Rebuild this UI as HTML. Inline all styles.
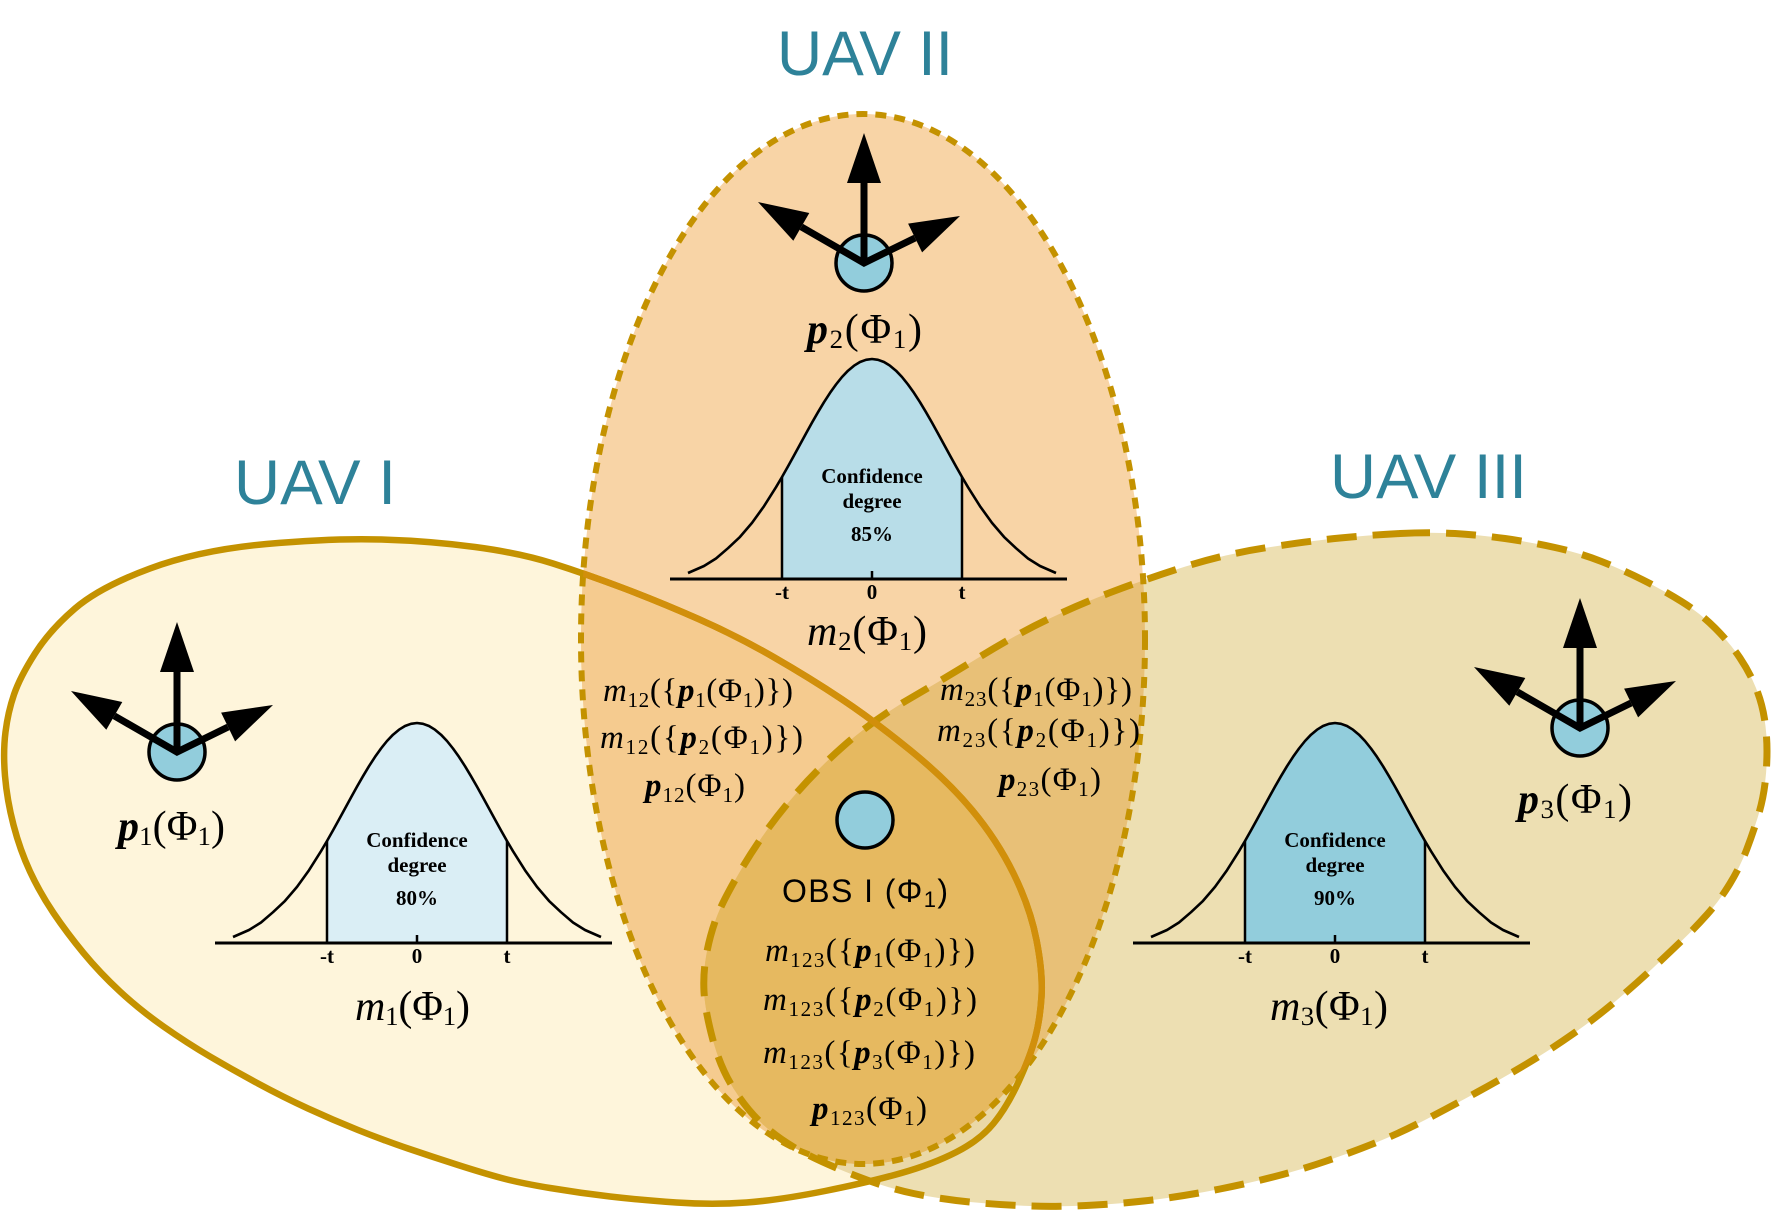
<!DOCTYPE html>
<html>
<head>
<meta charset="utf-8">
<style>
html,body{margin:0;padding:0;background:#fff;}
svg{display:block;}
.lab{font-family:"Liberation Sans",sans-serif;fill:#2E8299;font-size:63px;}
.m{font-family:"Liberation Serif",serif;fill:#000;}
.big{font-size:42px;}
.mid{font-size:33px;}
.i{font-style:italic;}
.bi{font-style:italic;font-weight:bold;}
.sb{font-size:0.64em;}
.cf{font-family:"Liberation Serif",serif;font-weight:bold;font-size:21px;fill:#000;text-anchor:middle;}
.obs{font-family:"Liberation Sans",sans-serif;font-size:32px;fill:#000;}
</style>
</head>
<body>
<svg width="1772" height="1213" viewBox="0 0 1772 1213" xmlns="http://www.w3.org/2000/svg">
<defs>
<path id="e1" d="M 266.5 544 Q 333 538 381.5 539.5 Q 430 541 475 547 Q 520 553 553 563.5 Q 586 574 623 588 Q 660 602 698.5 619 Q 737 636 773.5 657 Q 810 678 841.5 699 Q 873 720 910 750 Q 947 780 972 810 Q 997 840 1013.5 873.5 Q 1030 907 1036.5 940 Q 1043 973 1041.5 996.5 Q 1040 1020 1035 1038.5 Q 1030 1057 1018.5 1082 Q 1007 1107 993.5 1123.5 Q 980 1140 956.5 1152 Q 933 1164 901.5 1173 Q 870 1182 825 1191 Q 780 1200 746.5 1202.5 Q 713 1205 676.5 1202.5 Q 640 1200 610 1196.5 Q 580 1193 550 1188 Q 520 1183 501.5 1178 Q 483 1173 458 1165 Q 433 1157 408 1148.5 Q 383 1140 358 1130 Q 333 1120 308 1108.5 Q 283 1097 258 1083.5 Q 233 1070 210 1056.5 Q 187 1043 163.5 1026.5 Q 140 1010 120 991.5 Q 100 973 83.5 953 Q 67 933 53.5 913 Q 40 893 30 871.5 Q 20 850 13.5 825 Q 7 800 5 776 Q 3 752 5.5 732 Q 8 712 14 694.5 Q 20 677 35 653.5 Q 50 630 75 608.5 Q 100 587 150 568.5 Q 200 550 266.5 544 Z"/>
<path id="e3" d="M 1400 533.5 Q 1430 532 1455 533.5 Q 1480 535 1505 538.5 Q 1530 542 1555 547.5 Q 1580 553 1601.5 561.5 Q 1623 570 1643 580 Q 1663 590 1681.5 601.5 Q 1700 613 1715 628 Q 1730 643 1740 658 Q 1750 673 1756 688 Q 1762 703 1764.5 719 Q 1767 735 1767 751 Q 1767 767 1765 783.5 Q 1763 800 1758 816.5 Q 1753 833 1746.5 850 Q 1740 867 1730 883.5 Q 1720 900 1707.5 914 Q 1695 928 1682.5 940 Q 1670 952 1653.5 967.5 Q 1637 983 1617 1000 Q 1597 1017 1573.5 1033.5 Q 1550 1050 1526.5 1064 Q 1503 1078 1476.5 1092.5 Q 1450 1107 1425 1120 Q 1400 1133 1375 1143 Q 1350 1153 1325 1161.5 Q 1300 1170 1275 1176.5 Q 1250 1183 1220 1189 Q 1190 1195 1160 1199 Q 1130 1203 1095 1205 Q 1060 1207 1030 1206 Q 1000 1205 970 1202 Q 940 1199 913.5 1193.5 Q 887 1188 855 1175.5 Q 823 1163 801.5 1151.5 Q 780 1140 763.5 1125 Q 747 1110 733.5 1088.5 Q 720 1067 712.5 1038.5 Q 705 1010 704 991.5 Q 703 973 706.5 954 Q 710 935 716.5 917.5 Q 723 900 743 866.5 Q 763 833 788 803 Q 813 773 843 746.5 Q 873 720 910 698.5 Q 947 677 982 655.5 Q 1017 634 1048.5 619 Q 1080 604 1113 591.5 Q 1146 579 1185.5 566.5 Q 1225 554 1267.5 547.5 Q 1310 541 1340 538 Q 1370 535 1400 533.5 Z"/>
<ellipse id="e2" cx="863" cy="639" rx="282" ry="525"/>
<clipPath id="c1"><use href="#e1"/></clipPath>
<clipPath id="c2"><use href="#e2"/></clipPath>
<clipPath id="c3"><use href="#e3"/></clipPath>

<path id="bellcurve" d="M-184 -6 L-168 -13 L-156 -20.5 L-144 -30.8 L-132 -42.1 L-120 -56.1 L-108 -72.8 L-96 -91.8 L-90 -102 L-84 -112.6 L-78 -123.5 L-72 -134.5 L-66 -145.5 L-60 -156.4 L-54 -166.8 L-48 -176.8 L-42 -186.1 L-36 -194.5 L-30 -202 L-24 -208.3 L-18 -213.3 L-12 -217 L-6 -219.2 L0 -220 L6 -219.2 L12 -217 L18 -213.3 L24 -208.3 L30 -202 L36 -194.5 L42 -186.1 L48 -176.8 L54 -166.8 L60 -156.4 L66 -145.5 L72 -134.5 L78 -123.5 L84 -112.6 L90 -102 L96 -91.8 L108 -72.8 L120 -56.1 L132 -42.1 L144 -30.8 L156 -20.5 L168 -13 L184 -6" fill="none" stroke="#000" stroke-width="2.6" stroke-linejoin="round"/>
<path id="bellfill" d="M-90 0 L-90 -102 L-84 -112.6 L-78 -123.5 L-72 -134.5 L-66 -145.5 L-60 -156.4 L-54 -166.8 L-48 -176.8 L-42 -186.1 L-36 -194.5 L-30 -202 L-24 -208.3 L-18 -213.3 L-12 -217 L-6 -219.2 L0 -220 L6 -219.2 L12 -217 L18 -213.3 L24 -208.3 L30 -202 L36 -194.5 L42 -186.1 L48 -176.8 L54 -166.8 L60 -156.4 L66 -145.5 L72 -134.5 L78 -123.5 L84 -112.6 L90 -102 L90 0 Z"/>
<g id="bellaxes">
  <path d="M-202 0 H195" stroke="#000" stroke-width="3"/>
  <path d="M-90 0 V-102 M90 0 V-102 M0 0 V-8" stroke="#000" stroke-width="2.5" fill="none"/>
</g>

<g id="uav">
  <circle r="28" fill="#92CDDC" stroke="#000" stroke-width="3.5"/>
  <path d="M-62.7 -36.1 L0 0 L51.1 -25 M0 0 V-82" stroke="#000" stroke-width="7" fill="none" stroke-linejoin="miter"/>
  <polygon points="0,-130 -17,-80 17,-80" fill="#000"/>
  <polygon points="-106,-61 -54.7,-50 -70.7,-22.2" fill="#000"/>
  <polygon points="96,-47 44.1,-39.4 58.1,-10.6" fill="#000"/>
</g>
</defs>

<rect x="0" y="0" width="1772" height="1213" fill="#fff"/>

<!-- fills -->
<use href="#e1" fill="#FEF5DB"/>
<use href="#e3" fill="#EDDFB2"/>
<g clip-path="url(#c1)"><use href="#e3" fill="#EAD8A6"/></g>
<use href="#e2" fill="#F8D4A6"/>
<g clip-path="url(#c2)">
  <use href="#e1" fill="#F5CB8F"/>
  <use href="#e3" fill="#E8C077"/>
  <g clip-path="url(#c3)"><use href="#e1" fill="#E6B960"/></g>
</g>

<!-- outlines -->
<use href="#e2" fill="none" stroke="#C49200" stroke-width="6" stroke-dasharray="11 8"/>
<use href="#e3" fill="none" stroke="#C49200" stroke-width="7" stroke-dasharray="30 16"/>
<use href="#e1" fill="none" stroke="#C49200" stroke-width="6.5"/>
<g clip-path="url(#c2)"><use href="#e1" fill="none" stroke="#D18F0B" stroke-width="6.5"/></g>

<!-- titles -->
<text class="lab" x="777" y="75" textLength="176" lengthAdjust="spacingAndGlyphs">UAV II</text>
<text class="lab" x="234" y="504" textLength="162" lengthAdjust="spacingAndGlyphs">UAV I</text>
<text class="lab" x="1330" y="498" textLength="197" lengthAdjust="spacingAndGlyphs">UAV III</text>

<!-- UAV icons -->
<use href="#uav" x="177" y="752"/>
<use href="#uav" x="864" y="263"/>
<use href="#uav" x="1580" y="728"/>

<!-- OBS circle -->
<circle cx="865" cy="820" r="28" fill="#92CDDC" stroke="#000" stroke-width="3.5"/>

<!-- bells -->
<g transform="translate(417,943)">
  <use href="#bellfill" fill="#DAEEF5"/>
  <use href="#bellcurve"/>
  <use href="#bellaxes"/>
  <text class="cf" x="0" y="-96">Confidence</text>
  <text class="cf" x="0" y="-71">degree</text>
  <text class="cf" x="0" y="-38">80%</text>
  <text class="cf" x="-90" y="20">-t</text>
  <text class="cf" x="0" y="20">0</text>
  <text class="cf" x="90" y="20">t</text>
</g>
<g transform="translate(872,579)">
  <use href="#bellfill" fill="#B8DDE8"/>
  <use href="#bellcurve"/>
  <use href="#bellaxes"/>
  <text class="cf" x="0" y="-96">Confidence</text>
  <text class="cf" x="0" y="-71">degree</text>
  <text class="cf" x="0" y="-38">85%</text>
  <text class="cf" x="-90" y="20">-t</text>
  <text class="cf" x="0" y="20">0</text>
  <text class="cf" x="90" y="20">t</text>
</g>
<g transform="translate(1335,943)">
  <use href="#bellfill" fill="#92CDDC"/>
  <use href="#bellcurve"/>
  <use href="#bellaxes"/>
  <text class="cf" x="0" y="-96">Confidence</text>
  <text class="cf" x="0" y="-71">degree</text>
  <text class="cf" x="0" y="-38">90%</text>
  <text class="cf" x="-90" y="20">-t</text>
  <text class="cf" x="0" y="20">0</text>
  <text class="cf" x="90" y="20">t</text>
</g>

<!-- big labels -->
<text class="m big" x="807" y="343" textLength="115" lengthAdjust="spacing"><tspan class="bi">p</tspan><tspan class="sb" dy="5">2</tspan><tspan dy="-5">(Φ</tspan><tspan class="sb" dy="5">1</tspan><tspan dy="-5">)</tspan></text>
<text class="m big" x="118" y="840" textLength="107" lengthAdjust="spacing"><tspan class="bi">p</tspan><tspan class="sb" dy="5">1</tspan><tspan dy="-5">(Φ</tspan><tspan class="sb" dy="5">1</tspan><tspan dy="-5">)</tspan></text>
<text class="m big" x="1518" y="813" textLength="114" lengthAdjust="spacing"><tspan class="bi">p</tspan><tspan class="sb" dy="5">3</tspan><tspan dy="-5">(Φ</tspan><tspan class="sb" dy="5">1</tspan><tspan dy="-5">)</tspan></text>
<text class="m big" x="807" y="645" textLength="120" lengthAdjust="spacing"><tspan class="i">m</tspan><tspan class="sb" dy="5">2</tspan><tspan dy="-5">(Φ</tspan><tspan class="sb" dy="5">1</tspan><tspan dy="-5">)</tspan></text>
<text class="m big" x="355" y="1020" textLength="115" lengthAdjust="spacing"><tspan class="i">m</tspan><tspan class="sb" dy="5">1</tspan><tspan dy="-5">(Φ</tspan><tspan class="sb" dy="5">1</tspan><tspan dy="-5">)</tspan></text>
<text class="m big" x="1270" y="1020" textLength="118" lengthAdjust="spacing"><tspan class="i">m</tspan><tspan class="sb" dy="5">3</tspan><tspan dy="-5">(Φ</tspan><tspan class="sb" dy="5">1</tspan><tspan dy="-5">)</tspan></text>

<!-- m12 group -->
<text class="m mid" x="603" y="701" textLength="190" lengthAdjust="spacing"><tspan class="i">m</tspan><tspan class="sb" dy="6">12</tspan><tspan dy="-6">({</tspan><tspan class="bi">p</tspan><tspan class="sb" dy="6">1</tspan><tspan dy="-6">(Φ</tspan><tspan class="sb" dy="6">1</tspan><tspan dy="-6">)})</tspan></text>
<text class="m mid" x="600" y="748" textLength="203" lengthAdjust="spacing"><tspan class="i">m</tspan><tspan class="sb" dy="6">12</tspan><tspan dy="-6">({</tspan><tspan class="bi">p</tspan><tspan class="sb" dy="6">2</tspan><tspan dy="-6">(Φ</tspan><tspan class="sb" dy="6">1</tspan><tspan dy="-6">)})</tspan></text>
<text class="m mid" x="645" y="796" textLength="100" lengthAdjust="spacing"><tspan class="bi">p</tspan><tspan class="sb" dy="6">12</tspan><tspan dy="-6">(Φ</tspan><tspan class="sb" dy="6">1</tspan><tspan dy="-6">)</tspan></text>

<!-- m23 group -->
<text class="m mid" x="940" y="700" textLength="192" lengthAdjust="spacing"><tspan class="i">m</tspan><tspan class="sb" dy="6">23</tspan><tspan dy="-6">({</tspan><tspan class="bi">p</tspan><tspan class="sb" dy="6">1</tspan><tspan dy="-6">(Φ</tspan><tspan class="sb" dy="6">1</tspan><tspan dy="-6">)})</tspan></text>
<text class="m mid" x="937" y="741" textLength="203" lengthAdjust="spacing"><tspan class="i">m</tspan><tspan class="sb" dy="6">23</tspan><tspan dy="-6">({</tspan><tspan class="bi">p</tspan><tspan class="sb" dy="6">2</tspan><tspan dy="-6">(Φ</tspan><tspan class="sb" dy="6">1</tspan><tspan dy="-6">)})</tspan></text>
<text class="m mid" x="999" y="790" textLength="102" lengthAdjust="spacing"><tspan class="bi">p</tspan><tspan class="sb" dy="6">23</tspan><tspan dy="-6">(Φ</tspan><tspan class="sb" dy="6">1</tspan><tspan dy="-6">)</tspan></text>

<!-- OBS group -->
<text class="obs" x="782" y="902" textLength="166" lengthAdjust="spacing">OBS I (Φ<tspan font-size="22" dy="5">1</tspan><tspan dy="-5">)</tspan></text>
<text class="m mid" x="765" y="961" textLength="210" lengthAdjust="spacing"><tspan class="i">m</tspan><tspan class="sb" dy="6">123</tspan><tspan dy="-6">({</tspan><tspan class="bi">p</tspan><tspan class="sb" dy="6">1</tspan><tspan dy="-6">(Φ</tspan><tspan class="sb" dy="6">1</tspan><tspan dy="-6">)})</tspan></text>
<text class="m mid" x="763" y="1010" textLength="214" lengthAdjust="spacing"><tspan class="i">m</tspan><tspan class="sb" dy="6">123</tspan><tspan dy="-6">({</tspan><tspan class="bi">p</tspan><tspan class="sb" dy="6">2</tspan><tspan dy="-6">(Φ</tspan><tspan class="sb" dy="6">1</tspan><tspan dy="-6">)})</tspan></text>
<text class="m mid" x="763" y="1063" textLength="212" lengthAdjust="spacing"><tspan class="i">m</tspan><tspan class="sb" dy="6">123</tspan><tspan dy="-6">({</tspan><tspan class="bi">p</tspan><tspan class="sb" dy="6">3</tspan><tspan dy="-6">(Φ</tspan><tspan class="sb" dy="6">1</tspan><tspan dy="-6">)})</tspan></text>
<text class="m mid" x="812" y="1119" textLength="115" lengthAdjust="spacing"><tspan class="bi">p</tspan><tspan class="sb" dy="6">123</tspan><tspan dy="-6">(Φ</tspan><tspan class="sb" dy="6">1</tspan><tspan dy="-6">)</tspan></text>
</svg>
</body>
</html>
